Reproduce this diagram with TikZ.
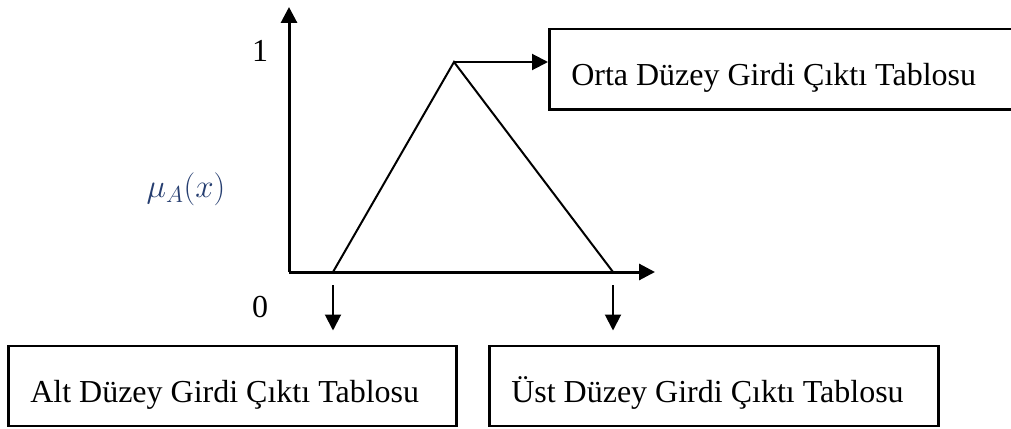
\documentclass[tikz,border=0pt]{standalone}
\usepackage{fix-cm}
\usepackage{fontspec}
\setmainfont{Liberation Serif}
\usetikzlibrary{arrows.meta}
\definecolor{mucol}{RGB}{38,62,112}
\tikzset{
  arr/.style={line width=2bp, -{Triangle[length=16bp,width=16bp]}},
  axis/.style={line width=3bp, -{Triangle[length=16bp,width=16bp]}},
  tbox/.style={draw, line width=2.5bp, inner xsep=22bp, inner ysep=8bp,
    text height=48.5bp, text depth=15.5bp, align=flush left,
    font=\fontsize{32bp}{38bp}\selectfont},
  lbl/.style={font=\fontsize{32bp}{38bp}\selectfont, inner sep=0pt}
}
\begin{document}
\begin{tikzpicture}[x=1bp,y=1bp]
\useasboundingbox (0,0) rectangle (1011,428);
\coordinate (o) at (289,156);
\coordinate (yt) at (289,421);
\coordinate (xt) at (655,156);
\coordinate (lf) at (333,156);
\coordinate (pk) at (454,366);
\coordinate (rf) at (613,156);
\draw[axis] (o) -- (yt);
\draw[axis] (o) -- (xt);
\draw[line width=2bp, line join=miter] (lf) -- (pk) -- (rf);
\node[lbl] (one) at (260,377) {1};
\node[lbl] (zero) at (260,121) {0};
\node[inner sep=0pt, text=mucol, font=\fontsize{33bp}{38bp}\selectfont] (mu) at (186,239) {$\mu_A(x)$};
\node[tbox, anchor=north west, text width=446bp] (mid) at (548,400) {Orta Düzey Girdi Çıktı Tablosu};
\node[tbox, anchor=south west, text width=404bp] (low) at (7,1) {Alt Düzey Girdi Çıktı Tablosu};
\node[tbox, anchor=south west, text width=405bp] (up) at (488,1) {Üst Düzey Girdi Çıktı Tablosu};
\draw[arr] (pk) -- (pk -| mid.west);
\draw[arr, shorten <=13bp, shorten >=14bp] (lf) -- (lf |- low.north);
\draw[arr, shorten <=13bp, shorten >=14bp] (rf) -- (rf |- up.north);
\end{tikzpicture}
\end{document}
